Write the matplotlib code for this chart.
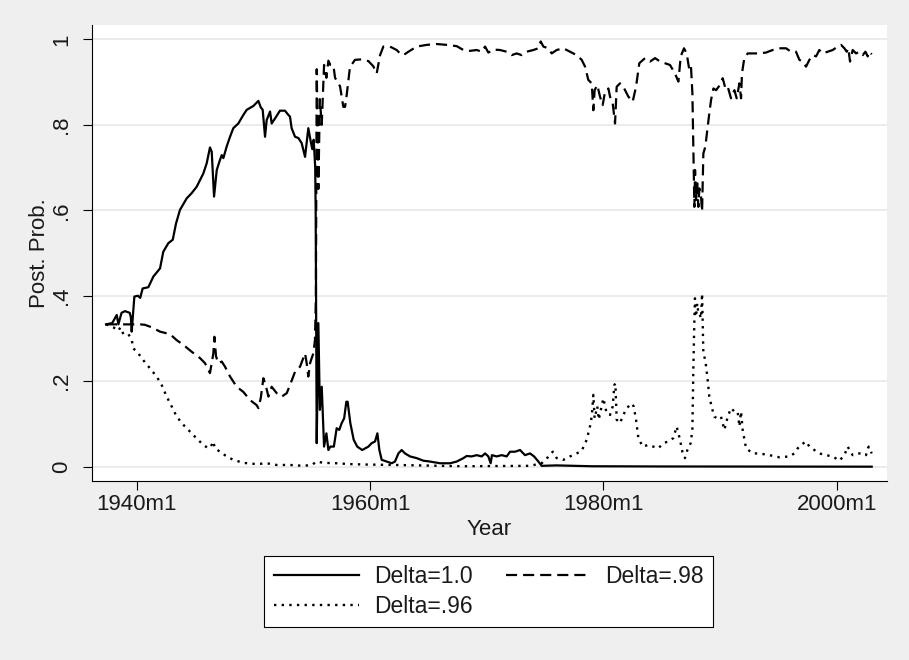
import matplotlib
matplotlib.use("Agg")
import matplotlib.pyplot as plt
from matplotlib.lines import Line2D

plt.rcParams['font.family'] = ['Liberation Sans', 'DejaVu Sans']
plt.rcParams['lines.scale_dashes'] = False

# ---------------- data ----------------
years_d10 = [1937.37, 1937.9, 1938.29, 1938.43, 1938.7, 1939.0, 1939.4, 1939.5, 1939.57, 1939.8,
             1940.1, 1940.3, 1940.51, 1941.0, 1941.43, 1942.0, 1942.28, 1942.71, 1943.09, 1943.37,
             1943.71, 1944.29, 1944.71, 1945.14, 1945.71, 1946.0, 1946.28, 1946.43, 1946.63, 1946.86,
             1947.14, 1947.29, 1947.43, 1947.71, 1948.0, 1948.28, 1948.71, 1949.14, 1949.43, 1950.0,
             1950.43, 1950.63, 1950.8, 1951.0, 1951.14, 1951.43, 1951.57, 1951.86, 1952.28, 1952.71,
             1953.0, 1953.14, 1953.28, 1953.57, 1953.86, 1954.14, 1954.43, 1954.71, 1954.91, 1955.05,
             1955.17, 1955.3, 1955.34, 1955.43, 1955.57, 1955.7, 1955.86, 1956.06, 1956.26, 1956.43,
             1956.6, 1956.9, 1957.14, 1957.36, 1957.57, 1957.78, 1957.97, 1958.08, 1958.31, 1958.6,
             1958.9, 1959.33, 1959.86, 1960.14, 1960.43, 1960.63, 1960.8, 1961.0, 1961.43, 1961.86,
             1962.14, 1962.43, 1962.71, 1963.0, 1963.43, 1964.0, 1964.57, 1965.14, 1966.0, 1966.86,
             1967.43, 1968.0, 1968.28, 1968.71, 1969.14, 1969.57, 1969.86, 1970.14, 1970.34, 1970.45,
             1970.86, 1971.28, 1971.71, 1972.0, 1972.43, 1972.86, 1973.28, 1973.71, 1974.06, 1974.43,
             1974.71, 1976.0, 1977.5, 1979.0, 1985.0, 2003.0]
prob_d10 = [0.333, 0.336, 0.355, 0.333, 0.36, 0.364, 0.36, 0.35, 0.316, 0.398,
            0.40, 0.395, 0.417, 0.42, 0.445, 0.464, 0.503, 0.523, 0.531, 0.569,
            0.601, 0.628, 0.64, 0.655, 0.686, 0.71, 0.747, 0.737, 0.632, 0.694,
            0.718, 0.729, 0.722, 0.749, 0.772, 0.792, 0.803, 0.823, 0.835, 0.844,
            0.856, 0.841, 0.835, 0.772, 0.811, 0.831, 0.803, 0.815, 0.833, 0.833,
            0.823, 0.819, 0.792, 0.772, 0.769, 0.757, 0.725, 0.792, 0.762, 0.743,
            0.765, 0.702, 0.60, 0.055, 0.336, 0.133, 0.187, 0.047, 0.078, 0.039,
            0.047, 0.047, 0.09, 0.086, 0.102, 0.113, 0.152, 0.152, 0.102, 0.063,
            0.047, 0.039, 0.047, 0.055, 0.059, 0.078, 0.039, 0.016, 0.012, 0.008,
            0.012, 0.031, 0.039, 0.031, 0.024, 0.02, 0.014, 0.012, 0.008, 0.008,
            0.012, 0.02, 0.025, 0.024, 0.027, 0.024, 0.031, 0.024, 0.008, 0.027,
            0.024, 0.027, 0.024, 0.035, 0.035, 0.039, 0.027, 0.031, 0.024, 0.012,
            0.002, 0.003, 0.002, 0.001, 0.0005, 0.0]

years_d98 = [1937.37, 1940.3, 1940.7, 1941.3, 1942.0, 1942.86, 1943.43, 1944.0, 1944.71, 1945.43,
             1945.86, 1946.28, 1946.57, 1946.66, 1946.8, 1947.0, 1947.29, 1947.57, 1948.0, 1948.57,
             1949.14, 1949.71, 1950.28, 1950.43, 1950.63, 1950.86, 1951.09, 1951.29, 1951.57, 1952.0,
             1952.43, 1952.86, 1953.14, 1953.57, 1954.0, 1954.43, 1954.57, 1954.71, 1954.86, 1955.0,
             1955.14, 1955.28, 1955.36, 1955.43, 1955.57, 1955.7, 1955.86, 1956.06, 1956.26, 1956.43,
             1956.6, 1956.86, 1957.0, 1957.43, 1957.71, 1957.86, 1958.0, 1958.28, 1958.71, 1959.29,
             1959.86, 1960.0, 1960.28, 1960.57, 1960.86, 1961.14, 1961.71, 1962.28, 1962.57, 1962.86,
             1963.29, 1964.0, 1964.86, 1965.71, 1966.57, 1967.43, 1968.0, 1968.57, 1969.14, 1969.57,
             1969.86, 1970.14, 1970.57, 1971.14, 1971.71, 1972.14, 1972.57, 1973.0, 1973.43, 1974.0,
             1974.43, 1974.63, 1974.86, 1975.28, 1975.57, 1976.0, 1976.57, 1977.14, 1977.71, 1978.14,
             1978.43, 1978.71, 1979.0, 1979.14, 1979.25, 1979.48, 1979.71, 1979.94, 1980.14, 1980.43,
             1980.57, 1980.8, 1981.0, 1981.14, 1981.43, 1981.71, 1982.14, 1982.51, 1982.8, 1983.08,
             1983.57, 1984.0, 1984.43, 1984.86, 1985.28, 1985.71, 1986.14, 1986.43, 1986.63, 1986.91,
             1987.14, 1987.37, 1987.51, 1987.63, 1987.71, 1987.8, 1987.86, 1987.94, 1988.05, 1988.14,
             1988.23, 1988.37, 1988.46, 1988.57, 1988.74, 1988.94, 1989.08, 1989.23, 1989.43, 1989.66,
             1989.88, 1990.23, 1990.46, 1990.66, 1990.94, 1991.23, 1991.43, 1991.66, 1991.8, 1991.88,
             1992.08, 1992.37, 1992.8, 1993.37, 1993.94, 1994.51, 1995.08, 1995.66, 1996.08, 1996.51,
             1996.8, 1997.08, 1997.37, 1997.66, 1997.94, 1998.23, 1998.51, 1998.8, 1999.23, 1999.66,
             2000.08, 2000.37, 2000.66, 2000.86, 2001.0, 2001.14, 2001.37, 2001.66, 2001.94, 2002.23,
             2002.46, 2002.66, 2002.8, 2003.0]
prob_d98 = [0.333, 0.333, 0.332, 0.326, 0.316, 0.31, 0.296, 0.285, 0.269, 0.254,
            0.242, 0.219, 0.265, 0.304, 0.258, 0.242, 0.246, 0.234, 0.211, 0.187,
            0.175, 0.156, 0.144, 0.137, 0.16, 0.207, 0.187, 0.164, 0.187, 0.172,
            0.164, 0.172, 0.191, 0.222, 0.234, 0.265, 0.242, 0.211, 0.242, 0.254,
            0.265, 0.296, 0.40, 0.93, 0.65, 0.86, 0.80, 0.94, 0.91, 0.95,
            0.94, 0.939, 0.91, 0.89, 0.842, 0.842, 0.87, 0.935, 0.952, 0.953,
            0.949, 0.945, 0.937, 0.92, 0.963, 0.983, 0.983, 0.975, 0.967, 0.963,
            0.971, 0.983, 0.987, 0.989, 0.987, 0.984, 0.975, 0.973, 0.975, 0.971,
            0.983, 0.969, 0.976, 0.975, 0.971, 0.963, 0.967, 0.963, 0.971, 0.975,
            0.979, 0.995, 0.983, 0.979, 0.967, 0.975, 0.979, 0.971, 0.963, 0.952,
            0.936, 0.905, 0.897, 0.834, 0.881, 0.893, 0.866, 0.846, 0.877, 0.885,
            0.866, 0.85, 0.803, 0.889, 0.897, 0.889, 0.866, 0.854, 0.889, 0.944,
            0.956, 0.948, 0.956, 0.948, 0.944, 0.94, 0.92, 0.901, 0.96, 0.979,
            0.967, 0.928, 0.936, 0.874, 0.749, 0.608, 0.694, 0.624, 0.663, 0.608,
            0.651, 0.632, 0.597, 0.733, 0.749, 0.795, 0.827, 0.858, 0.885, 0.881,
            0.889, 0.909, 0.885, 0.889, 0.862, 0.881, 0.862, 0.897, 0.862, 0.92,
            0.956, 0.967, 0.967, 0.967, 0.969, 0.975, 0.979, 0.979, 0.971, 0.971,
            0.952, 0.948, 0.936, 0.952, 0.963, 0.96, 0.975, 0.967, 0.971, 0.975,
            0.983, 0.987, 0.979, 0.971, 0.979, 0.948, 0.975, 0.967, 0.971, 0.963,
            0.971, 0.96, 0.971, 0.965]

years_d96 = [1937.37, 1938.0, 1938.43, 1938.6, 1938.86, 1939.29, 1939.57, 1939.71, 1940.14, 1940.57,
             1941.14, 1941.71, 1942.14, 1942.57, 1943.0, 1943.43, 1944.0, 1944.57, 1945.14, 1945.71,
             1946.14, 1946.35, 1946.57, 1946.7, 1947.14, 1947.71, 1948.28, 1949.14, 1950.28, 1951.14,
             1952.0, 1953.14, 1954.28, 1955.0, 1955.43, 1956.0, 1957.14, 1958.28, 1959.71, 1962.28,
             1968.0, 1973.71, 1974.71, 1975.28, 1975.66, 1976.0, 1976.57, 1977.14, 1977.71, 1978.14,
             1978.57, 1978.85, 1979.0, 1979.14, 1979.25, 1979.48, 1979.6, 1979.85, 1980.0, 1980.28,
             1980.57, 1980.8, 1980.94, 1981.03, 1981.14, 1981.43, 1981.71, 1982.0, 1982.43, 1982.6,
             1982.8, 1983.0, 1983.37, 1983.85, 1984.28, 1984.71, 1985.14, 1985.57, 1986.0, 1986.28,
             1986.43, 1986.57, 1986.77, 1986.99, 1987.2, 1987.48, 1987.63, 1987.71, 1987.8, 1987.85,
             1987.94, 1988.05, 1988.14, 1988.23, 1988.37, 1988.46, 1988.57, 1988.74, 1988.94, 1989.08,
             1989.31, 1989.51, 1989.8, 1990.08, 1990.37, 1990.66, 1990.94, 1991.23, 1991.51, 1991.66,
             1991.8, 1991.94, 1992.23, 1992.8, 1993.37, 1994.23, 1995.08, 1995.94, 1996.37, 1996.66,
             1996.94, 1997.37, 1997.66, 1998.08, 1998.51, 1999.08, 1999.66, 2000.23, 2000.66, 2000.94,
             2001.1, 2001.37, 2001.8, 2002.23, 2002.51, 2002.74, 2003.0]
prob_d96 = [0.333, 0.326, 0.318, 0.326, 0.31, 0.31, 0.297, 0.277, 0.265, 0.249,
            0.23, 0.211, 0.191, 0.164, 0.141, 0.117, 0.098, 0.082, 0.066, 0.051,
            0.043, 0.047, 0.059, 0.043, 0.035, 0.024, 0.016, 0.009, 0.006, 0.008,
            0.004, 0.004, 0.002, 0.004, 0.012, 0.009, 0.008, 0.006, 0.005, 0.004,
            0.001, 0.002, 0.008, 0.023, 0.035, 0.02, 0.016, 0.024, 0.031, 0.037,
            0.063, 0.094, 0.117, 0.168, 0.113, 0.141, 0.11, 0.141, 0.16, 0.125,
            0.121, 0.141, 0.191, 0.195, 0.11, 0.102, 0.121, 0.137, 0.148, 0.141,
            0.11, 0.067, 0.047, 0.051, 0.047, 0.043, 0.055, 0.059, 0.067, 0.094,
            0.078, 0.063, 0.035, 0.02, 0.039, 0.055, 0.086, 0.226, 0.343, 0.394,
            0.351, 0.382, 0.359, 0.359, 0.347, 0.405, 0.265, 0.249, 0.203, 0.164,
            0.137, 0.117, 0.113, 0.117, 0.086, 0.117, 0.137, 0.129, 0.129, 0.094,
            0.129, 0.086, 0.043, 0.031, 0.031, 0.027, 0.022, 0.024, 0.031, 0.043,
            0.051, 0.059, 0.047, 0.039, 0.031, 0.027, 0.024, 0.014, 0.027, 0.047,
            0.039, 0.027, 0.031, 0.031, 0.027, 0.047, 0.031]

series_labels = ["Delta=1.0", "Delta=.98", "Delta=.96"]
x_tick_years = [1940, 1960, 1980, 2000]
x_tick_labels = ["1940m1", "1960m1", "1980m1", "2000m1"]
y_ticks = [0, 0.2, 0.4, 0.6, 0.8, 1.0]
y_tick_labels = ["0", ".2", ".4", ".6", ".8", "1"]

# ---------------- figure ----------------
W, H = 909, 660
fig = plt.figure(figsize=(W / 100, H / 100), dpi=100, facecolor='#efefef')
ax = fig.add_axes([91.7 / W, 1 - 481 / H, (886.7 - 91.7) / W, (481 - 25) / H])
ax.set_facecolor('white')

txt = '#1a1a1a'
l1, = ax.plot(years_d10, prob_d10, color='black', lw=1.6, solid_joinstyle='round')
l2, = ax.plot(years_d98, prob_d98, color='black', lw=1.6, dashes=(8, 4.3))
l3, = ax.plot(years_d96, prob_d96, color='black', lw=1.7, dashes=(1.7, 3.8))

ax.set_xlim(1936.143, 2004.285)
ax.set_ylim(-0.0335, 1.0335)

ax.set_xticks(x_tick_years)
ax.set_xticklabels(x_tick_labels)
ax.set_yticks(y_ticks)
ax.set_yticklabels(y_tick_labels, rotation=90, va='center')

for s in ['top', 'right']:
    ax.spines[s].set_visible(False)
for s in ['left', 'bottom']:
    ax.spines[s].set_linewidth(0.8)
    ax.spines[s].set_color('black')

ax.tick_params(axis='both', direction='out', length=6.5, width=0.8, colors='black',
               labelsize=16, labelcolor=txt)
ax.tick_params(axis='x', pad=3)
ax.tick_params(axis='y', pad=7.5)

ax.grid(axis='y', color='#e6e6e6', lw=1.1)
ax.set_axisbelow(True)

ax.set_xlabel("Year", fontsize=16, color=txt, labelpad=3)
ax.set_ylabel("Post. Prob.", fontsize=16, color=txt, labelpad=1)

leg = fig.legend([l1, l3, l2], [series_labels[0], series_labels[2], series_labels[1]],
                 ncol=2, loc='upper center',
                 bbox_to_anchor=(488.9 / W, 1 - 555.7 / H), bbox_transform=fig.transFigure,
                 borderaxespad=0, fontsize=16.5, frameon=True, fancybox=False,
                 edgecolor='black', facecolor='white', framealpha=1,
                 handlelength=3.7, handletextpad=0.65, columnspacing=1.45,
                 borderpad=0.42, labelspacing=0.28)
leg.get_frame().set_linewidth(0.8)
for t in leg.get_texts():
    t.set_color(txt)

fig.savefig("out.png", dpi=100, facecolor=fig.get_facecolor())
